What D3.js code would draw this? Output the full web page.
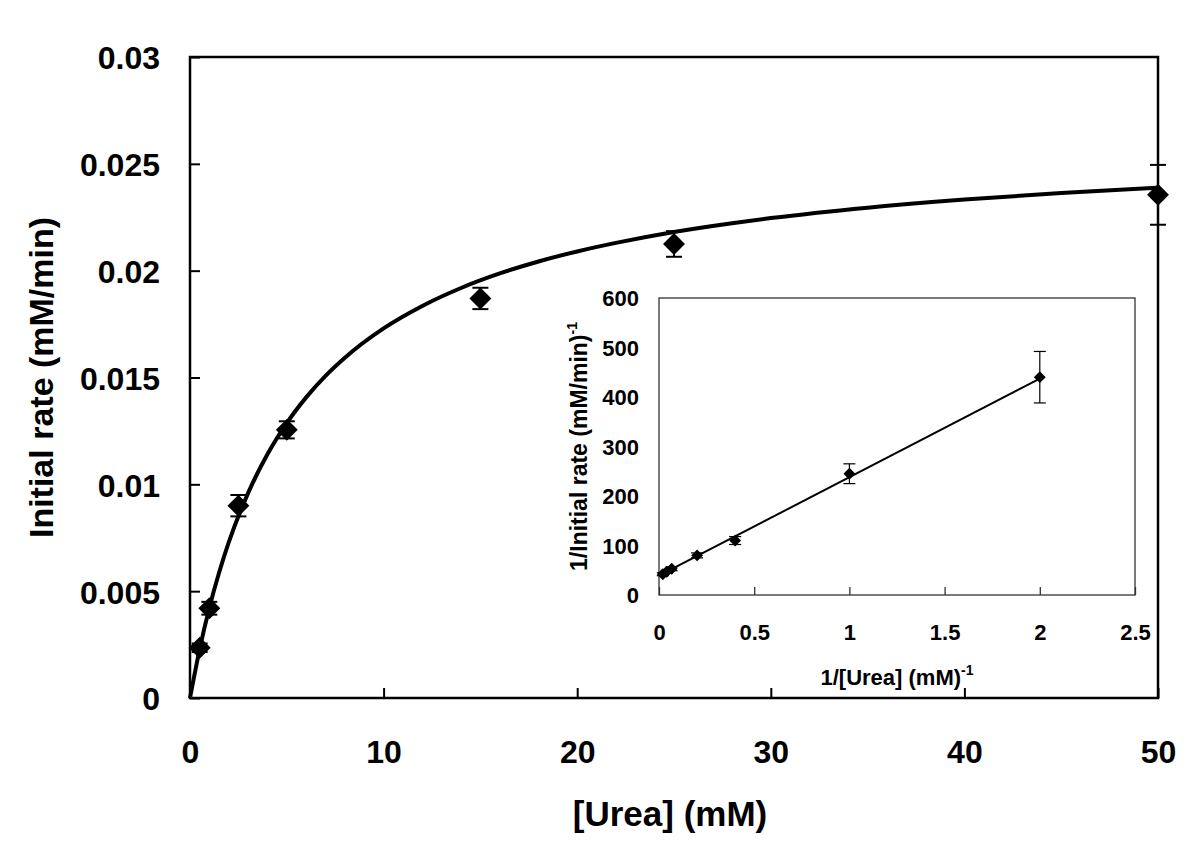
<!DOCTYPE html>
<html>
<head>
<meta charset="utf-8">
<script src="https://cdn.jsdelivr.net/npm/d3@7"></script>
<style>
  body { margin: 0; background: #fff; }
  svg { display: block; font-family: Arial, "Liberation Sans", sans-serif; font-weight: bold; }
</style>
</head>
<body>
<svg id="chart" width="1200" height="864"></svg>
<script>
// main plot: measured rates with error bars
var urea = [0.5, 1, 2.5, 5, 15, 25, 50];
var rate = [0.00235, 0.0042, 0.0090, 0.01255, 0.0187, 0.02125, 0.02355];
var rateErr = [0.0002, 0.0003, 0.0005, 0.0004, 0.0005, 0.0006, 0.0014];

// fitted curve
var curveX = [0, 0.5, 1, 1.5, 2, 3, 4, 5, 6, 7, 8, 10, 12, 14, 16, 18, 20, 22, 25, 28, 30, 35, 40, 45, 50];
var curveY = [0, 0.00229, 0.00422, 0.00586, 0.00728, 0.00959, 0.01141, 0.01287, 0.01407, 0.01508, 0.01593,
              0.0173, 0.01835, 0.01919, 0.01987, 0.02043, 0.0209, 0.0213, 0.02181, 0.02222, 0.02246,
              0.02295, 0.02333, 0.02363, 0.02388];

var xTicks = [0, 10, 20, 30, 40, 50];
var yTicks = [0, 0.005, 0.01, 0.015, 0.02, 0.025, 0.03];
var yTickLabels = ["0", "0.005", "0.01", "0.015", "0.02", "0.025", "0.03"];

// inset: double reciprocal plot
var invUrea = [0.02, 0.04, 0.0667, 0.2, 0.4, 1, 2];
var invRate = [42, 47, 53, 80, 110, 245, 440];
var invRateErr = [3, 3, 4, 5, 8, 20, 52];
var fitX = [0, 2];
var fitY = [39, 437];

var insetXTicks = [0, 0.5, 1, 1.5, 2, 2.5];
var insetYTicks = [0, 100, 200, 300, 400, 500, 600];

var svg = d3.select("#chart");

var x = d3.scaleLinear().domain([0, 50]).range([190, 1158]);
var y = d3.scaleLinear().domain([0, 0.03]).range([698, 57]);

var ix = d3.scaleLinear().domain([0, 2.5]).range([659, 1135]);
var iy = d3.scaleLinear().domain([0, 600]).range([595, 298]);

// ---- main plot ----
var main = svg.append("g");

main.append("rect")
    .attr("x", x(0)).attr("y", y(0.03))
    .attr("width", x(50) - x(0)).attr("height", y(0) - y(0.03))
    .attr("fill", "none").attr("stroke", "#000").attr("stroke-width", 2.5);

var xAxis = main.append("g")
    .attr("transform", "translate(0," + y(0) + ")")
    .call(d3.axisBottom(x).tickValues(xTicks).tickSize(-10).tickSizeOuter(0).tickFormat(d3.format("d")));
xAxis.select(".domain").remove();
xAxis.selectAll("line").attr("stroke-width", 2);
xAxis.selectAll("text")
    .attr("y", 65).attr("dy", 0)
    .style("font-size", "32px").style("font-weight", "bold").attr("fill", "#000");

var yAxis = main.append("g")
    .attr("transform", "translate(" + x(0) + ",0)")
    .call(d3.axisLeft(y).tickValues(yTicks).tickSize(-10).tickSizeOuter(0).tickPadding(30)
        .tickFormat(function (d, i) { return yTickLabels[i]; }));
yAxis.select(".domain").remove();
yAxis.selectAll("line").attr("stroke-width", 2);
yAxis.selectAll("text")
    .attr("dy", "0.37em")
    .style("font-size", "32px").style("font-weight", "bold").attr("fill", "#000");

main.append("text")
    .attr("x", (x(0) + x(50)) / 2 - 4).attr("y", 826)
    .attr("text-anchor", "middle")
    .style("font-size", "35px")
    .text("[Urea] (mM)");

main.append("text")
    .attr("transform", "translate(53," + (y(0) + y(0.03)) / 2 + ") rotate(-90)")
    .attr("text-anchor", "middle")
    .style("font-size", "34px")
    .text("Initial rate (mM/min)");

var line = d3.line()
    .x(function (d) { return x(d[0]); })
    .y(function (d) { return y(d[1]); })
    .curve(d3.curveMonotoneX);

main.append("path")
    .datum(d3.zip(curveX, curveY))
    .attr("d", line)
    .attr("fill", "none").attr("stroke", "#000").attr("stroke-width", 4);

var pts = d3.zip(urea, rate, rateErr);

var bars = main.selectAll(".err").data(pts).enter().append("g").attr("class", "err")
    .attr("stroke", "#000").attr("stroke-width", 2);
bars.append("line")
    .attr("x1", function (d) { return x(d[0]); }).attr("x2", function (d) { return x(d[0]); })
    .attr("y1", function (d) { return y(d[1] - d[2]); }).attr("y2", function (d) { return y(d[1] + d[2]); });
bars.append("line")
    .attr("x1", function (d) { return x(d[0]) - 8; }).attr("x2", function (d) { return x(d[0]) + 8; })
    .attr("y1", function (d) { return y(d[1] + d[2]); }).attr("y2", function (d) { return y(d[1] + d[2]); });
bars.append("line")
    .attr("x1", function (d) { return x(d[0]) - 8; }).attr("x2", function (d) { return x(d[0]) + 8; })
    .attr("y1", function (d) { return y(d[1] - d[2]); }).attr("y2", function (d) { return y(d[1] - d[2]); });

var bigDiamond = d3.symbol().type(d3.symbolSquare).size(240);
main.selectAll(".pt").data(pts).enter().append("path")
    .attr("class", "pt")
    .attr("d", bigDiamond)
    .attr("transform", function (d) { return "translate(" + x(d[0]) + "," + y(d[1]) + ") rotate(45)"; })
    .attr("fill", "#000");

// ---- inset ----
var inset = svg.append("g");

inset.append("rect")
    .attr("x", ix(0)).attr("y", iy(600))
    .attr("width", ix(2.5) - ix(0)).attr("height", iy(0) - iy(600))
    .attr("fill", "#fff").attr("stroke", "#333").attr("stroke-width", 1.3);

var ixAxis = inset.append("g")
    .attr("transform", "translate(0," + iy(0) + ")")
    .call(d3.axisBottom(ix).tickValues(insetXTicks).tickSize(-8).tickSizeOuter(0).tickFormat(d3.format("")));
ixAxis.select(".domain").remove();
ixAxis.selectAll("line").attr("stroke", "#333").attr("stroke-width", 1.3);
ixAxis.selectAll("text")
    .attr("y", 45).attr("dy", 0)
    .style("font-size", "22px").style("font-weight", "bold").attr("fill", "#000");

var iyAxis = inset.append("g")
    .attr("transform", "translate(" + ix(0) + ",0)")
    .call(d3.axisLeft(iy).tickValues(insetYTicks).tickSize(0).tickSizeOuter(0).tickPadding(20).tickFormat(d3.format("d")));
iyAxis.select(".domain").remove();
iyAxis.selectAll("text")
    .attr("dy", "0.36em")
    .style("font-size", "22px").style("font-weight", "bold").attr("fill", "#000");

var ixTitle = inset.append("text")
    .attr("x", (ix(0) + ix(2.5)) / 2).attr("y", 685)
    .attr("text-anchor", "middle")
    .style("font-size", "22px");
ixTitle.append("tspan").text("1/[Urea] (mM)");
ixTitle.append("tspan").attr("dy", -10).style("font-size", "14px").text("-1");

var iyTitle = inset.append("text")
    .attr("transform", "translate(587," + (iy(0) + iy(600)) / 2 + ") rotate(-90)")
    .attr("text-anchor", "middle")
    .style("font-size", "23px");
iyTitle.append("tspan").text("1/Initial rate (mM/min)");
iyTitle.append("tspan").attr("dy", -10).style("font-size", "14px").text("-1");

inset.append("path")
    .datum(d3.zip(fitX, fitY))
    .attr("d", d3.line().x(function (d) { return ix(d[0]); }).y(function (d) { return iy(d[1]); }))
    .attr("fill", "none").attr("stroke", "#000").attr("stroke-width", 2);

var ipts = d3.zip(invUrea, invRate, invRateErr);

var ibars = inset.selectAll(".ierr").data(ipts).enter().append("g").attr("class", "ierr")
    .attr("stroke", "#000").attr("stroke-width", 1.2);
ibars.append("line")
    .attr("x1", function (d) { return ix(d[0]); }).attr("x2", function (d) { return ix(d[0]); })
    .attr("y1", function (d) { return iy(d[1] - d[2]); }).attr("y2", function (d) { return iy(d[1] + d[2]); });
ibars.append("line")
    .attr("x1", function (d) { return ix(d[0]) - 6; }).attr("x2", function (d) { return ix(d[0]) + 6; })
    .attr("y1", function (d) { return iy(d[1] + d[2]); }).attr("y2", function (d) { return iy(d[1] + d[2]); });
ibars.append("line")
    .attr("x1", function (d) { return ix(d[0]) - 6; }).attr("x2", function (d) { return ix(d[0]) + 6; })
    .attr("y1", function (d) { return iy(d[1] - d[2]); }).attr("y2", function (d) { return iy(d[1] - d[2]); });

var smallDiamond = d3.symbol().type(d3.symbolSquare).size(70);
inset.selectAll(".ipt").data(ipts).enter().append("path")
    .attr("class", "ipt")
    .attr("d", smallDiamond)
    .attr("transform", function (d) { return "translate(" + ix(d[0]) + "," + iy(d[1]) + ") rotate(45)"; })
    .attr("fill", "#000");
</script>
</body>
</html>
